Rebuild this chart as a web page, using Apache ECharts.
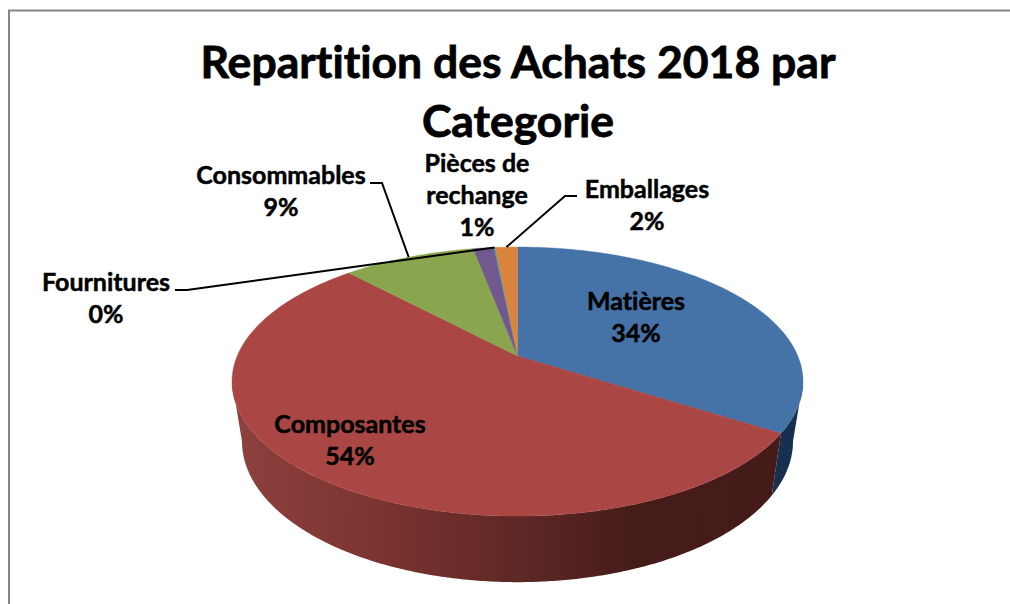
<!DOCTYPE html>
<html>
<head>
<meta charset="utf-8">
<style>
  html, body { margin: 0; padding: 0; background: #fff; }
  #chart { width: 1010px; height: 604px; }
  #chart text { font-variant-ligatures: none !important; }
</style>
<script src="https://cdn.jsdelivr.net/npm/echarts@6/dist/echarts.min.js"></script>
</head>
<body>
<div id="chart"></div>
<script>
// data, clockwise from 12 o'clock
const categories = ['Matières', 'Composantes', 'Consommables', 'Pièces de\nrechange', 'Fournitures', 'Emballages'];
const shares = [34, 54, 9, 1.4, 0.1, 1.5];
const faceColors = ['#4572A7', '#AA4643', '#89A54E', '#71588F', '#4198AF', '#DB843D'];

// label anchors and leader elbows, in page pixels
const labelSpots = [[636, 315.5], [350, 439], [281, 190], [477, 193.5], [106, 296.5], [647, 203.5]];
const leaderElbows = [null, null, [[370, 183], [382, 183]], null, [[175, 290], [187, 290]], [[577, 196], [565, 196]]];

// perspective of the tilted disc, fitted on the picture
const cx = 517.5, cy = 356, rx = 280.3, ry = 129.7, persp = 0.19;
// lower rim of the wall
const wallSx = 0.965, wallSy = 1.047, wallDrop = 58.5;
// where the disc outline turns away from the viewer
const edgeRight = 180 - Math.acos(persp) * 180 / Math.PI;
const edgeLeft = 360 - edgeRight;

function rim(deg, lower) {
  const a = deg * Math.PI / 180;
  const x = Math.sin(a), y = -Math.cos(a);
  const d = 1 - persp * y;
  const px = rx * x / d, py = ry * y / d;
  if (lower) return [cx + px * wallSx, cy + wallDrop + py * wallSy];
  return [cx + px, cy + py];
}

function arc(from, to, lower) {
  const pts = [];
  const n = Math.max(2, Math.ceil(Math.abs(to - from) / 0.5));
  for (let i = 0; i <= n; i++) pts.push(rim(from + (to - from) * i / n, lower));
  return pts;
}

const startDeg = [];
shares.reduce((sum, v, i) => { startDeg[i] = sum * 3.6; return sum + v; }, 0);

function wallFill(i) {
  if (i === 0) return '#17304F';
  // lit from the left
  return {
    type: 'linear', x: 232, y: 0, x2: 790, y2: 0, global: true,
    colorStops: [
      { offset: 0, color: '#8E413E' },
      { offset: 0.2, color: '#803734' },
      { offset: 0.38, color: '#6E2E2B' },
      { offset: 0.55, color: '#5A2623' },
      { offset: 0.72, color: '#461C19' },
      { offset: 1, color: '#441B19' }
    ]
  };
}

function renderWall(params, api) {
  const i = params.dataIndex;
  const from = Math.max(startDeg[i], edgeRight);
  const to = Math.min(startDeg[i] + api.value(0) * 3.6, edgeLeft);
  if (to <= from) return { type: 'group', children: [] };
  return {
    type: 'polygon',
    shape: { points: arc(from, to, false).concat(arc(from, to, true).reverse()) },
    style: { fill: wallFill(i) }
  };
}

function renderFace(params, api) {
  const i = params.dataIndex;
  const from = startDeg[i];
  const to = from + api.value(0) * 3.6;
  return {
    type: 'polygon',
    shape: { points: [[cx, cy]].concat(arc(from, to, false)) },
    style: { fill: faceColors[i], stroke: faceColors[i], lineWidth: 0.4 }
  };
}

function renderLabel(params, api) {
  const i = params.dataIndex;
  const value = api.value(0);
  const children = [];
  if (leaderElbows[i]) {
    const mid = rim(startDeg[i] + value * 1.8, false);
    children.push({
      type: 'polyline',
      shape: { points: leaderElbows[i].concat([mid]) },
      style: { fill: null, stroke: '#000', lineWidth: 2 }
    });
  }
  children.push({
    type: 'text',
    style: {
      x: labelSpots[i][0], y: labelSpots[i][1],
      text: categories[i] + '\n' + Math.round(value) + '%',
      align: 'center', verticalAlign: 'middle',
      fill: '#000', stroke: '#000', lineWidth: 0.5,
      fontFamily: 'Lato', fontWeight: 'bold', fontSize: 25, lineHeight: 32
    }
  });
  return { type: 'group', children };
}

const chart = echarts.init(document.getElementById('chart'), null, { renderer: 'svg' });
const seriesData = shares.map(v => [v]);

chart.setOption({
  backgroundColor: '#fff',
  animation: false,
  title: {
    text: 'Repartition des Achats 2018 par\nCategorie',
    left: 513, top: 26, textAlign: 'center',
    textStyle: {
      fontFamily: 'Lato', fontWeight: 'bold', fontSize: 44.5, lineHeight: 59, color: '#000',
      textBorderColor: '#000', textBorderWidth: 0.8
    }
  },
  graphic: [{
    type: 'polyline',
    shape: { points: [[9, 604], [9, 10.5], [1010, 10.5]] },
    style: { fill: null, stroke: '#868686', lineWidth: 2 }
  }],
  series: [
    { type: 'custom', coordinateSystem: 'none', silent: true, z: 1, renderItem: renderWall, data: seriesData },
    { type: 'custom', coordinateSystem: 'none', silent: true, z: 2, renderItem: renderFace, data: seriesData },
    { type: 'custom', coordinateSystem: 'none', silent: true, z: 3, renderItem: renderLabel, data: seriesData }
  ]
});
</script>
</body>
</html>
